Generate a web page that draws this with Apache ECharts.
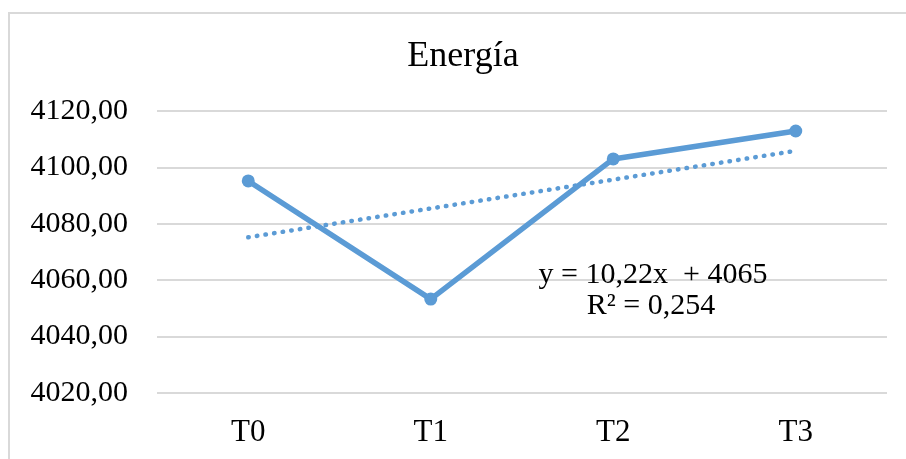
<!DOCTYPE html>
<html>
<head>
<meta charset="utf-8">
<script src="https://cdn.jsdelivr.net/npm/echarts@6/dist/echarts.min.js"></script>
<style>
  html, body { margin: 0; padding: 0; background: #fff; }
  #chart { width: 906px; height: 459px; }
</style>
</head>
<body>
<div id="chart"></div>
<script>
// Energy per treatment with its linear trend
const categories = ['T0', 'T1', 'T2', 'T3'];
const energia = [4095.2, 4053.3, 4103.0, 4112.9];
const yTicks = { min: 4020, max: 4120, step: 20 };
// Linear trend as printed on the chart: y = 10,22x + 4065 (x = 1..4)
const trendSlope = 10.22;
const trendIntercept = 4065;
const trendLabel = ['y = 10,22x  + 4065', 'R² = 0,254'];

const trend = categories.map((c, i) => trendSlope * (i + 1) + trendIntercept);

const FONT = '"Liberation Serif", "Times New Roman", serif';
const BLUE = '#5B9BD5';

const chart = echarts.init(document.getElementById('chart'), null, { renderer: 'canvas' });

chart.setOption({
  backgroundColor: '#ffffff',
  animation: false,
  grid: { left: 157, right: 19, top: 111, bottom: 66, containLabel: false },
  xAxis: {
    type: 'category',
    data: categories,
    boundaryGap: true,
    axisLine: { show: false },
    axisTick: { show: false },
    axisLabel: { color: '#000', fontFamily: FONT, fontSize: 31, margin: 24 }
  },
  yAxis: {
    type: 'value',
    min: yTicks.min,
    max: yTicks.max,
    interval: yTicks.step,
    axisLine: { show: false },
    axisTick: { show: false },
    splitLine: { lineStyle: { color: '#d9d9d9', width: 2 } },
    axisLabel: {
      color: '#000', fontFamily: FONT, fontSize: 30, margin: 29,
      formatter: v => v.toFixed(2).replace('.', ',')
    }
  },
  series: [
    {
      name: 'Energía',
      type: 'line',
      data: energia,
      symbol: 'circle',
      symbolSize: 13,
      lineStyle: { color: BLUE, width: 5.5 },
      itemStyle: { color: BLUE },
      z: 3
    },
    {
      name: 'Lineal (Energía)',
      type: 'line',
      data: trend,
      symbol: 'none',
      lineStyle: { color: BLUE, width: 4.5, type: [0.5, 8.2], cap: 'round' },
      z: 2
    }
  ],
  graphic: [
    {
      type: 'rect',
      shape: { x: 9, y: 13, width: 920, height: 470 },
      style: { fill: 'none', stroke: '#d9d9d9', lineWidth: 2 },
      silent: true
    },
    {
      type: 'text',
      x: 463, y: 57, z: 100,
      style: { text: 'Energía', font: '36px ' + FONT, fill: '#000', align: 'center', verticalAlign: 'middle' }
    },
    {
      type: 'text',
      x: 653, y: 275, z: 100,
      style: { text: trendLabel[0], font: '30px ' + FONT, fill: '#000', align: 'center', verticalAlign: 'middle' }
    },
    {
      type: 'text',
      x: 651, y: 306, z: 100,
      style: { text: trendLabel[1], font: '30px ' + FONT, fill: '#000', align: 'center', verticalAlign: 'middle' }
    }
  ]
});
</script>
</body>
</html>
